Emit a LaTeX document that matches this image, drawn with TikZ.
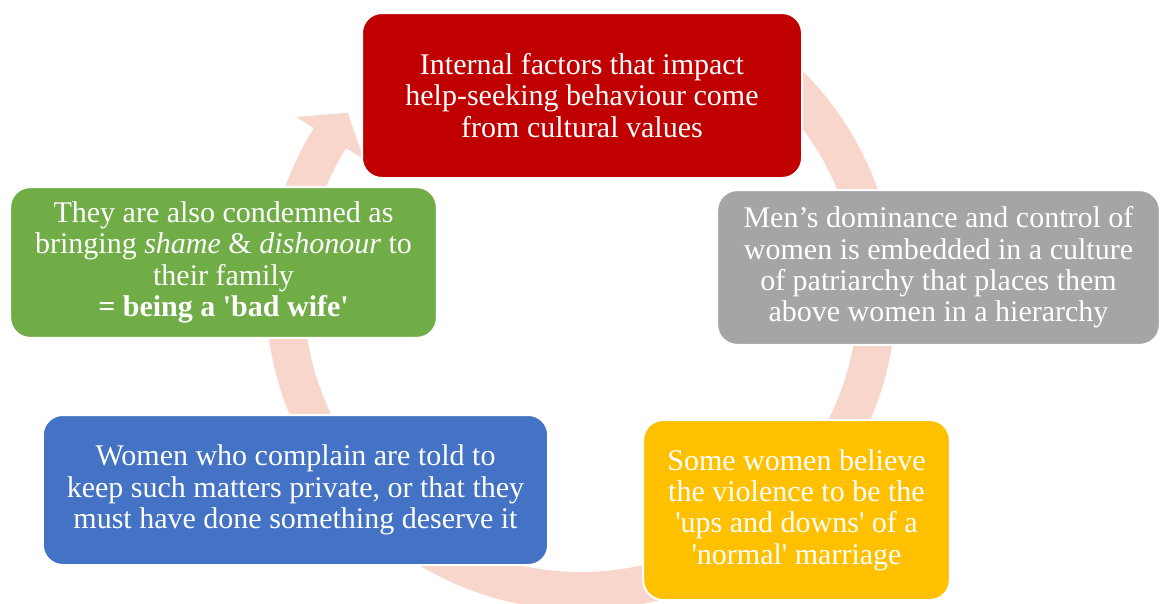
\documentclass[tikz,border=0pt]{standalone}
\usepackage{fontspec}
\setmainfont{Liberation Serif}
\usetikzlibrary{positioning}

\definecolor{ringpink}{RGB}{248,214,204}
\definecolor{boxred}{RGB}{192,0,0}
\definecolor{boxgray}{RGB}{165,165,165}
\definecolor{boxyellow}{RGB}{255,192,0}
\definecolor{boxblue}{RGB}{68,114,196}
\definecolor{boxgreen}{RGB}{112,173,71}

\newcommand{\sq}{\textquotesingle}

\tikzset{every picture/.style={line width=0.75pt}}
\tikzset{
  cyclebox/.style={draw=white, line width=1.5pt, rounded corners=15pt, text=white,
    align=center, inner sep=0.75pt, font=\fontsize{22.5}{23.5}\selectfont}
}

\begin{document}
\begin{tikzpicture}[x=0.75pt,y=0.75pt,yscale=-1,xscale=1]
    \useasboundingbox (0,0) rectangle (1162,603);
    \clip (0,0) rectangle (1162,603);

    %Shape: Ring arrow
    \coordinate (ctr) at (581,295);
    \fill [ringpink] ([shift={(-60:315)}]ctr) arc [start angle=-60, end angle=212, radius=315]
      -- ([shift={(212:336)}]ctr) -- ([shift={(218:296)}]ctr) -- ([shift={(212:256)}]ctr)
      -- ([shift={(212:277)}]ctr) arc [start angle=212, end angle=-60, radius=277] -- cycle ;

    % Text Node
    \node (factors) [cyclebox, fill=boxred, minimum width=330pt, minimum height=123.75pt] at (582,95.5)
      {Internal factors that impact\\help-seeking behaviour come\\from cultural values};
    % Text Node
    \node (patriarchy) [cyclebox, fill=boxgray, minimum width=332pt, minimum height=116pt] at (938.5,267.5)
      {Men’s dominance and control of\\women is embedded in a culture\\of patriarchy that places them\\above women in a hierarchy};
    % Text Node
    \node (normal) [cyclebox, fill=boxyellow, minimum width=230pt, minimum height=135pt] at (796.5,510)
      {Some women believe\\the violence to be the\\\sq ups and downs\sq{} of a\\\sq normal\sq{} marriage};
    % Text Node
    \node (private) [cyclebox, fill=boxblue, minimum width=379pt, minimum height=112.5pt] at (295.5,490)
      {Women who complain are told to\\keep such matters private, or that they\\must have done something deserve it};
    % Text Node
    \node (shame) [cyclebox, fill=boxgreen, minimum width=320pt, minimum height=113pt] at (223.5,262.5)
      {They are also condemned as\\bringing \textit{shame} \& \textit{dishonour} to\\their family\\\textbf{= being a \sq bad wife\sq}};

\end{tikzpicture}
\end{document}
